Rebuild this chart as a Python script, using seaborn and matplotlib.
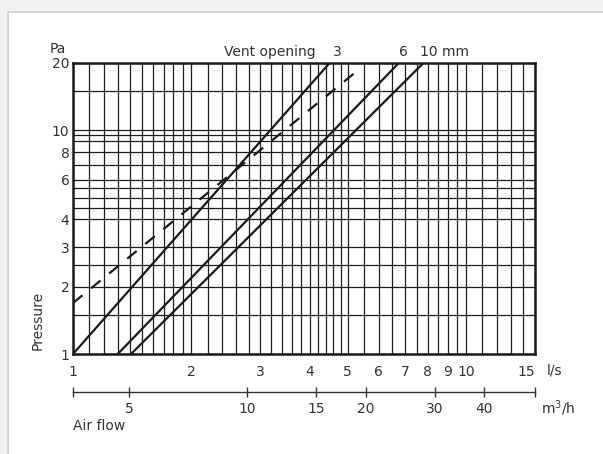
import seaborn as sns
import matplotlib.pyplot as plt
from matplotlib.patches import Rectangle
from matplotlib.ticker import NullLocator, NullFormatter

# Air flow (l/s) against pressure (Pa) (straight lines on log-log)
q_3mm = [1.0, 4.5]
p_3mm = [1.0, 20.0]
q_6mm = [1.3, 6.75]
p_6mm = [1.0, 20.0]
q_10mm = [1.405, 7.8]
p_10mm = [1.0, 20.0]
q_dash = [1.0, 5.32]
p_dash = [1.69, 18.6]

# ticks and grid
x_ticks = [1, 2, 3, 4, 5, 6, 7, 8, 9, 10, 15]
x_labels = ["1", "2", "3", "4", "5", "6", "7", "8", "9", "10", "15"]
y_ticks = [1, 2, 3, 4, 6, 8, 10, 20]
y_labels = ["1", "2", "3", "4", "6", "8", "10", "20"]
x_grid = [1.1, 1.2, 1.3, 1.4, 1.5, 1.6, 1.7, 1.8, 1.9,
          2.2, 2.4, 2.6, 2.8, 3.2, 3.4, 3.6, 3.8,
          4.2, 4.4, 4.6, 4.8, 5.5, 6.5, 7.5, 8.5, 9.5,
          11, 12, 13, 14]
y_grid = [1.5, 2.5, 4.5, 5, 5.5, 7, 9, 9.5, 15]
m3h_ticks = [3.6, 5, 10, 15, 20, 30, 40, 54]
m3h_labels = ["", "5", "10", "15", "20", "30", "40", ""]

sns.set_style("white")
plt.rcParams["font.family"] = ["DejaVu Sans"]
plt.rcParams["text.color"] = "#333333"
plt.rcParams["xtick.color"] = "#333333"
plt.rcParams["ytick.color"] = "#333333"

W, H = 603, 454


def fpos(x, y):
    return x / W, 1 - y / H


fig = plt.figure(figsize=(W / 100, H / 100), dpi=100)
fig.patch.set_facecolor("#f1f1f1")
fig.add_artist(Rectangle((8 / W, -0.01), 1, (H - 12) / H + 0.01, transform=fig.transFigure,
                         facecolor="white", edgecolor="#d4d4d4", lw=1.5, zorder=-10))

ax = fig.add_axes([73 / W, 1 - 354 / H, 462 / W, 291 / H])
ax.patch.set_alpha(0)
ax.set_xscale("log")
ax.set_yscale("log")
ax.set_xlim(1, 15)
ax.set_ylim(1, 20)

ax.set_xticks(x_ticks, labels=x_labels)
ax.set_yticks(y_ticks, labels=y_labels)
ax.set_xticks(x_grid, minor=True)
ax.set_yticks(y_grid, minor=True)
ax.xaxis.set_minor_formatter(NullFormatter())
ax.yaxis.set_minor_formatter(NullFormatter())
ax.tick_params(which="both", length=0, labelsize=10)
ax.tick_params(axis="x", pad=8)
ax.tick_params(axis="y", pad=2.5)
ax.get_xticklabels()[-1].set_horizontalalignment("right")
ax.grid(which="both", color="#1e1e1e", lw=0.9)
for s in ax.spines.values():
    s.set_color("#1a1a1a")
    s.set_linewidth(1.8)

# curves
sns.lineplot(x=q_3mm, y=p_3mm, ax=ax, color="#1a1a1a", lw=1.6)
sns.lineplot(x=q_6mm, y=p_6mm, ax=ax, color="#1a1a1a", lw=1.6)
sns.lineplot(x=q_10mm, y=p_10mm, ax=ax, color="#1a1a1a", lw=1.6)
sns.lineplot(x=q_dash, y=p_dash, ax=ax, color="#1a1a1a", lw=1.6, linestyle=(0, (5.5, 5)))
ax.set_xlabel("")
ax.set_ylabel("")

# second flow scale in m3/h
sec = ax.secondary_xaxis(-38 / 291, functions=(lambda q: q * 3.6, lambda m: m / 3.6))
sec.set_xticks(m3h_ticks, labels=m3h_labels)
sec.xaxis.set_minor_locator(NullLocator())
sec.tick_params(direction="inout", length=7, width=1, pad=4, labelsize=10, color="#333333")
sec.spines["bottom"].set_linewidth(1)
sec.spines["bottom"].set_color("#333333")

# texts
fig.text(*fpos(58, 53), "Pa", ha="center", va="baseline", fontsize=10)
fig.text(*fpos(316, 56), "Vent opening", ha="right", va="baseline", fontsize=10)
fig.text(*fpos(337, 56), "3", ha="center", va="baseline", fontsize=10)
fig.text(*fpos(403, 56), "6", ha="center", va="baseline", fontsize=10)
fig.text(*fpos(420, 56), "10 mm", ha="left", va="baseline", fontsize=10)
fig.text(*fpos(38, 320), "Pressure", rotation=90, ha="center", va="center", fontsize=10)
fig.text(*fpos(547, 375), "l/s", ha="left", va="baseline", fontsize=10)
fig.text(*fpos(541, 413), "m$^3$/h", ha="left", va="baseline", fontsize=10)
fig.text(*fpos(73, 430), "Air flow", ha="left", va="baseline", fontsize=10)

fig.savefig("out.png", dpi=100)
